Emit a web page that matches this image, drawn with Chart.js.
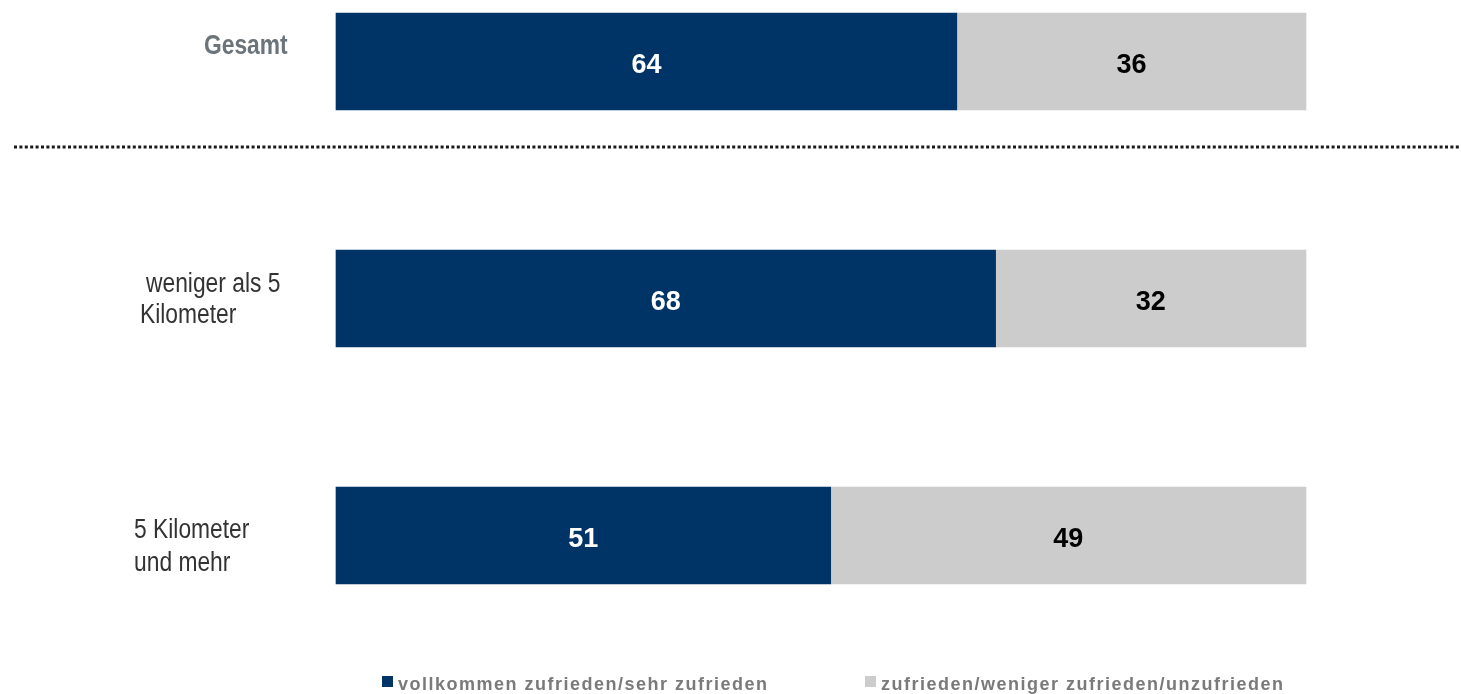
<!DOCTYPE html>
<html>
<head>
<meta charset="utf-8">
<script src="https://cdn.jsdelivr.net/npm/chart.js@4"></script>
<style>
  html, body { margin: 0; padding: 0; background: #ffffff; }
  #wrap { width: 1461px; height: 694px; position: relative; }
</style>
</head>
<body>
<div id="wrap"><canvas id="chart"></canvas></div>
<script>
// Distance groups (each entry is a list of label lines)
const categories = [['Gesamt'], ['weniger als 5', 'Kilometer'], ['5 Kilometer', 'und mehr']];
// Share of respondents in percent
const satisfiedHigh = [64, 68, 51];
const satisfiedLow = [36, 32, 49];
const seriesNames = ['vollkommen zufrieden/sehr zufrieden', 'zufrieden/weniger zufrieden/unzufrieden'];

const NAVY = '#003366';
const LIGHT = '#cccccc';

// Placement of the row captions to the left of the bars
const captionStyle = [
  { x: 204, dy: -7.5, lineGap: 32, weight: 'bold', color: '#6b747b' },
  { x: 146, dy: -6.5, lineGap: 31, weight: 'normal', color: '#333333', lineX: [146, 140] },
  { x: 134, dy: 2.5, lineGap: 33, weight: 'normal', color: '#333333' }
];
const CAPTION_FONT = 27;
const CAPTION_SQUEEZE = 0.845;

const valueLabels = {
  id: 'valueLabels',
  afterDatasetsDraw(chart) {
    const ctx = chart.ctx;
    ctx.save();
    ctx.font = 'bold 27px "Liberation Sans", Arial, sans-serif';
    ctx.textAlign = 'center';
    ctx.textBaseline = 'alphabetic';
    chart.data.datasets.forEach((ds, di) => {
      const meta = chart.getDatasetMeta(di);
      ctx.fillStyle = di === 0 ? '#ffffff' : '#000000';
      meta.data.forEach((bar, i) => {
        const cx = (bar.x + bar.base) / 2;
        ctx.fillText(String(ds.data[i]), cx, bar.y + 11);
      });
    });
    ctx.restore();
  }
};

const captions = {
  id: 'captions',
  afterDraw(chart) {
    const ctx = chart.ctx;
    const yScale = chart.scales.y;
    ctx.save();
    ctx.textAlign = 'left';
    ctx.textBaseline = 'alphabetic';
    categories.forEach((lines, i) => {
      const st = captionStyle[i];
      const yc = yScale.getPixelForValue(i);
      ctx.font = st.weight + ' ' + CAPTION_FONT + 'px "Liberation Sans", Arial, sans-serif';
      ctx.fillStyle = st.color;
      lines.forEach((line, li) => {
        const x = st.lineX ? st.lineX[li] : st.x;
        const y = yc + st.dy + li * st.lineGap;
        ctx.save();
        ctx.translate(x, y);
        ctx.scale(CAPTION_SQUEEZE, 1);
        ctx.fillText(line, 0, 0);
        ctx.restore();
      });
    });

    // dotted separator below the total row
    ctx.beginPath();
    ctx.setLineDash([3, 2.4]);
    ctx.lineWidth = 3;
    ctx.strokeStyle = '#1a1a1a';
    ctx.moveTo(14, 147);
    ctx.lineTo(1461, 147);
    ctx.stroke();
    ctx.setLineDash([]);

    // legend along the bottom edge
    const legendX = [382, 865];
    const colors = [NAVY, LIGHT];
    ctx.font = 'bold 18px "Liberation Sans", Arial, sans-serif';
    ctx.letterSpacing = '1.5px';
    seriesNames.forEach((name, i) => {
      ctx.fillStyle = colors[i];
      ctx.fillRect(legendX[i], 676, 11, 11);
      ctx.fillStyle = '#7a7a7a';
      ctx.fillText(name, legendX[i] + 16, 690);
    });
    ctx.restore();
  }
};

new Chart(document.getElementById('chart'), {
  type: 'bar',
  data: {
    labels: categories.map(l => l.join(' ')),
    datasets: [
      { label: seriesNames[0], data: satisfiedHigh, backgroundColor: NAVY, barThickness: 97, clip: false },
      { label: seriesNames[1], data: satisfiedLow, backgroundColor: LIGHT, barThickness: 97, clip: false }
    ]
  },
  options: {
    indexAxis: 'y',
    responsive: true,
    maintainAspectRatio: false,
    devicePixelRatio: 1,
    animation: false,
    layout: { padding: { left: 336, right: 155, top: 61.5, bottom: 158.5 } },
    plugins: { legend: { display: false }, tooltip: { enabled: false } },
    scales: {
      x: { stacked: true, min: 0, max: 100, display: false },
      y: { stacked: true, offset: false, display: false }
    }
  },
  plugins: [valueLabels, captions]
});
</script>
</body>
</html>
